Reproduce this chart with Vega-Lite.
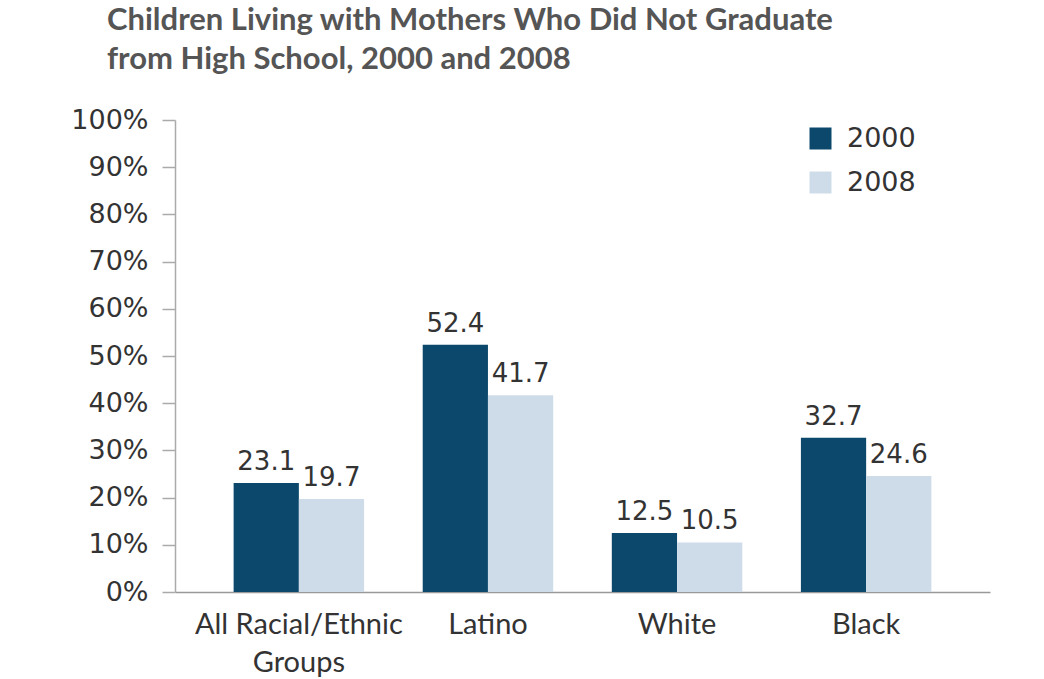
{
  "$schema": "https://vega.github.io/schema/vega-lite/v6.json",
  "autosize": {"type": "none"},
  "padding": {"left": 175, "top": 120, "right": 54, "bottom": 87},
  "width": 815,
  "height": 472,
  "background": "white",
  "title": {
    "text": ["Children Living with Mothers Who Did Not Graduate", "from High School, 2000 and 2008"],
    "anchor": "start",
    "frame": "group",
    "dx": -68,
    "offset": 30,
    "font": "Lato",
    "fontWeight": "bold",
    "fontSize": 31,
    "lineHeight": 39,
    "color": "#555555"
  },
  "data": {
    "values": [
      {"group": "All Racial/Ethnic Groups", "year": "2000", "value": 23.1},
      {"group": "All Racial/Ethnic Groups", "year": "2008", "value": 19.7},
      {"group": "Latino", "year": "2000", "value": 52.4},
      {"group": "Latino", "year": "2008", "value": 41.7},
      {"group": "White", "year": "2000", "value": 12.5},
      {"group": "White", "year": "2008", "value": 10.5},
      {"group": "Black", "year": "2000", "value": 32.7},
      {"group": "Black", "year": "2008", "value": 24.6}
    ]
  },
  "encoding": {
    "x": {
      "field": "group",
      "type": "nominal",
      "sort": null,
      "scale": {"paddingInner": 0.31, "paddingOuter": 0.31},
      "axis": {
        "title": null,
        "labelAngle": 0,
        "ticks": false,
        "domainColor": "#999999",
        "domainWidth": 1.5,
        "labelFont": "Lato",
        "labelFontSize": 29,
        "labelColor": "#333333",
        "labelPadding": 18,
        "labelLineHeight": 38,
        "labelLimit": 400,
        "labelExpr": "datum.label == 'All Racial/Ethnic Groups' ? ['All Racial/Ethnic', 'Groups'] : datum.label"
      }
    },
    "xOffset": {"field": "year", "type": "nominal", "scale": {"paddingInner": 0}},
    "y": {
      "field": "value",
      "type": "quantitative",
      "scale": {"domain": [0, 100], "nice": false},
      "axis": {
        "title": null,
        "values": [0, 10, 20, 30, 40, 50, 60, 70, 80, 90, 100],
        "labelExpr": "datum.value + '%'",
        "grid": false,
        "domainColor": "#aaaaaa",
        "domainWidth": 1.5,
        "tickColor": "#aaaaaa",
        "tickWidth": 1.5,
        "tickSize": 13,
        "labelPadding": 14,
        "labelFont": "DejaVu Sans",
        "labelFontSize": 27,
        "labelColor": "#333333"
      }
    }
  },
  "layer": [
    {
      "mark": {"type": "bar"},
      "encoding": {
        "color": {
          "field": "year",
          "type": "nominal",
          "scale": {"domain": ["2000", "2008"], "range": ["#0b486b", "#cedce9"]},
          "legend": {
            "title": null,
            "orient": "none",
            "legendX": 632,
            "legendY": 5,
            "symbolType": "square",
            "symbolSize": 484,
            "symbolStrokeWidth": 0,
            "labelFont": "DejaVu Sans",
            "labelFontSize": 27,
            "labelColor": "#333333",
            "labelOffset": 13,
            "rowPadding": 16
          }
        }
      }
    },
    {
      "mark": {"type": "text", "baseline": "alphabetic", "dy": -13, "font": "DejaVu Sans", "fontSize": 26, "color": "#333333"},
      "encoding": {"text": {"field": "value", "type": "quantitative", "format": ".1f"}}
    }
  ],
  "config": {"view": {"stroke": null}}
}
